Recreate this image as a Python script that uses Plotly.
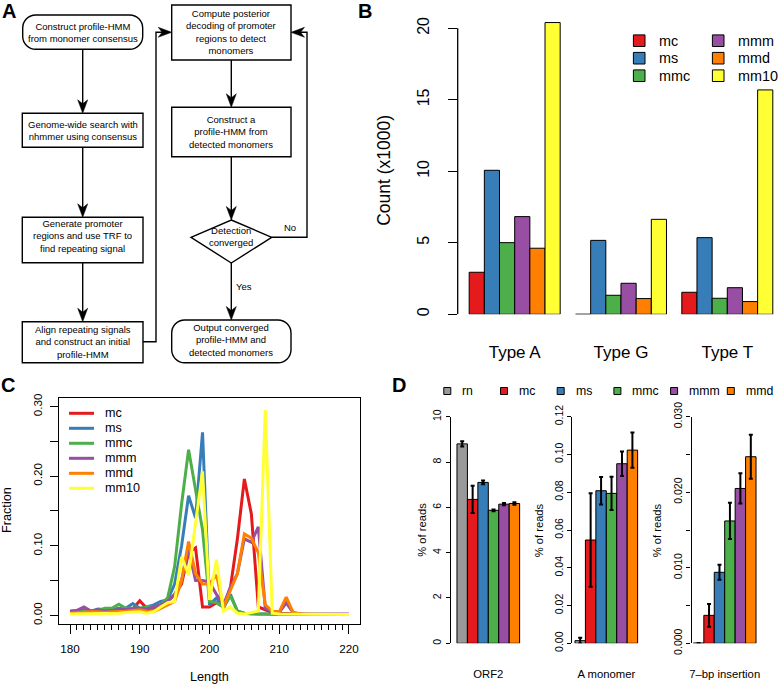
import plotly.graph_objects as go

# ---------------- data ----------------
strains = ["mc", "ms", "mmc", "mmm", "mmd", "mm10"]
strain_colors = ["#E41A1C", "#377EB8", "#4DAF4A", "#984EA3", "#FF7F00", "#FFFF33"]

# Panel B : promoter monomer counts (x1000)
promoter_types = ["Type A", "Type G", "Type T"]
count_mc = [2.94, 0.00, 1.54]
count_ms = [10.07, 5.17, 5.36]
count_mmc = [5.01, 1.33, 1.12]
count_mmm = [6.83, 2.17, 1.86]
count_mmd = [4.62, 1.10, 0.89]
count_mm10 = [20.40, 6.64, 15.69]
b_counts = [count_mc, count_ms, count_mmc, count_mmm, count_mmd, count_mm10]
b_ticks = [0, 5, 10, 15, 20]

# Panel C : monomer length distribution
monomer_length = [180, 181, 182, 183, 184, 185, 186, 187, 188, 189, 190,
                  191, 192, 193, 194, 195, 196, 197, 198, 199, 200,
                  201, 202, 203, 204, 205, 206, 207, 208, 209, 210,
                  211, 212, 213, 214, 215, 216, 217, 218, 219, 220]
frac_mc = [0.004, 0.005, 0.006, 0.005, 0.007, 0.006, 0.007, 0.008, 0.007, 0.009, 0.021,
           0.010, 0.010, 0.012, 0.020, 0.030, 0.045, 0.090, 0.097, 0.012, 0.012,
           0.018, 0.012, 0.040, 0.110, 0.196, 0.146, 0.012, 0.008, 0.004, 0.003,
           0.003, 0.002, 0.002, 0.001, 0.001, 0.001, 0.002, 0.001, 0.001, 0.001]
frac_ms = [0.006, 0.007, 0.008, 0.006, 0.009, 0.008, 0.008, 0.010, 0.010, 0.017, 0.010,
           0.012, 0.015, 0.020, 0.022, 0.045, 0.100, 0.172, 0.140, 0.263, 0.015,
           0.025, 0.010, 0.030, 0.006, 0.003, 0.002, 0.002, 0.002, 0.001, 0.001,
           0.001, 0.001, 0.001, 0.001, 0.001, 0.001, 0.001, 0.001, 0.001, 0.001]
frac_mmc = [0.004, 0.005, 0.006, 0.006, 0.007, 0.010, 0.010, 0.016, 0.010, 0.010, 0.010,
            0.012, 0.012, 0.015, 0.025, 0.070, 0.160, 0.238, 0.180, 0.123, 0.020,
            0.018, 0.012, 0.028, 0.006, 0.003, 0.002, 0.002, 0.001, 0.001, 0.001,
            0.001, 0.001, 0.001, 0.001, 0.001, 0.001, 0.001, 0.001, 0.001, 0.001]
frac_mmm = [0.006, 0.007, 0.012, 0.006, 0.008, 0.006, 0.007, 0.008, 0.008, 0.009, 0.010,
            0.009, 0.012, 0.015, 0.020, 0.030, 0.050, 0.095, 0.050, 0.050, 0.048,
            0.030, 0.015, 0.040, 0.060, 0.110, 0.105, 0.127, 0.010, 0.005, 0.004,
            0.018, 0.004, 0.002, 0.002, 0.002, 0.002, 0.003, 0.002, 0.003, 0.002]
frac_mmd = [0.003, 0.004, 0.004, 0.005, 0.005, 0.004, 0.005, 0.005, 0.006, 0.007, 0.008,
            0.006, 0.005, 0.010, 0.015, 0.020, 0.050, 0.106, 0.060, 0.045, 0.045,
            0.058, 0.012, 0.035, 0.060, 0.117, 0.111, 0.090, 0.015, 0.006, 0.005,
            0.026, 0.004, 0.002, 0.001, 0.001, 0.001, 0.001, 0.001, 0.001, 0.001]
frac_mm10 = [0.002, 0.002, 0.003, 0.003, 0.003, 0.002, 0.003, 0.003, 0.004, 0.004, 0.005,
             0.003, 0.005, 0.012, 0.018, 0.020, 0.084, 0.058, 0.130, 0.207, 0.022,
             0.080, 0.006, 0.012, 0.003, 0.002, 0.004, 0.006, 0.295, 0.003, 0.002,
             0.002, 0.001, 0.001, 0.001, 0.001, 0.001, 0.001, 0.001, 0.001, 0.001]
c_fracs = [frac_mc, frac_ms, frac_mmc, frac_mmm, frac_mmd, frac_mm10]
c_xticks = [180, 190, 200, 210, 220]
c_yticks = [0.00, 0.05, 0.10, 0.15, 0.20, 0.25, 0.30]
c_ytext = ["0.00", "", "0.10", "", "0.20", "", "0.30"]

# Panel D : % of reads
d_strains = ["rn", "mc", "ms", "mmc", "mmm", "mmd"]
d_colors = ["#999999", "#E41A1C", "#377EB8", "#4DAF4A", "#984EA3", "#FF7F00"]
d_features = ["ORF2", "A monomer", "7\u2013bp insertion"]
orf2_pct = [8.80, 6.35, 7.10, 5.87, 6.14, 6.17]
orf2_err = [0.12, 0.60, 0.08, 0.04, 0.05, 0.06]
amono_pct = [0.0014, 0.0547, 0.0808, 0.0794, 0.0951, 0.1023]
amono_err = [0.0015, 0.0247, 0.0073, 0.0088, 0.0065, 0.0093]
ins7_pct = [0.00003, 0.0037, 0.0094, 0.0162, 0.0205, 0.0247]
ins7_err = [0.0, 0.0015, 0.0010, 0.0024, 0.0020, 0.0029]
d_pct = [orf2_pct, amono_pct, ins7_pct]
d_err = [orf2_err, amono_err, ins7_err]
d_yticks = [[0, 2, 4, 6, 8, 10],
            [0.00, 0.02, 0.04, 0.06, 0.08, 0.10, 0.12],
            [0.000, 0.005, 0.010, 0.015, 0.020, 0.025, 0.030]]
d_ytext = [["0", "2", "4", "6", "8", "10"],
           ["0.00", "0.02", "0.04", "0.06", "0.08", "0.10", "0.12"],
           ["0.000", "", "0.010", "", "0.020", "", "0.030"]]

# ---------------- helpers ----------------
W, H = 778, 684
FONT = "Liberation Sans, Arial, Helvetica, sans-serif"


def px(x):
    return x / W


def py(y):
    return 1 - y / H


shapes = []
annotations = []


def text(x, y, s, size, bold=False, angle=0, xanchor="center", yanchor="middle", color="black"):
    if bold:
        s = "<b>" + s + "</b>"
    annotations.append(dict(x=px(x), y=py(y), xref="paper", yref="paper", text=s, showarrow=False,
                            font=dict(size=size, family=FONT, color=color), textangle=angle,
                            xanchor=xanchor, yanchor=yanchor))


def P(x, y):
    return "%.5f,%.5f" % (px(x), py(y))


def path_shape(d, lw=1.4, fill=None):
    s = dict(type="path", path=d, xref="paper", yref="paper", line=dict(color="black", width=lw))
    if fill:
        s["fillcolor"] = fill
    shapes.append(s)


def polyline(pts, lw=1.4):
    d = "M" + P(*pts[0]) + "".join(" L" + P(*p) for p in pts[1:])
    path_shape(d, lw)


def box(x0, y0, x1, y1, r=0, lw=1.4):
    if r == 0:
        d = "M" + P(x0, y0) + " L" + P(x1, y0) + " L" + P(x1, y1) + " L" + P(x0, y1) + " Z"
    else:
        k = 0.5523 * r
        d = ("M" + P(x0 + r, y0) + " L" + P(x1 - r, y0) +
             " C" + P(x1 - r + k, y0) + " " + P(x1, y0 + r - k) + " " + P(x1, y0 + r) +
             " L" + P(x1, y1 - r) +
             " C" + P(x1, y1 - r + k) + " " + P(x1 - r + k, y1) + " " + P(x1 - r, y1) +
             " L" + P(x0 + r, y1) +
             " C" + P(x0 + r - k, y1) + " " + P(x0, y1 - r + k) + " " + P(x0, y1 - r) +
             " L" + P(x0, y0 + r) +
             " C" + P(x0, y0 + r - k) + " " + P(x0 + r - k, y0) + " " + P(x0 + r, y0) + " Z")
    path_shape(d, lw, fill="white")


def head(x, y, direction):
    L, Wd, N = 13.5, 5.0, 9.5
    if direction == "down":
        pts = [(x, y), (x - Wd, y - L), (x, y - N), (x + Wd, y - L)]
    elif direction == "right":
        pts = [(x, y), (x - L, y - Wd), (x - N, y), (x - L, y + Wd)]
    else:  # left
        pts = [(x, y), (x + L, y - Wd), (x + N, y), (x + L, y + Wd)]
    d = "M" + P(*pts[0]) + "".join(" L" + P(*p) for p in pts[1:]) + " Z"
    path_shape(d, 0.5, fill="black")


def arrow_down(x, y0, y1):
    polyline([(x, y0), (x, y1 - 7)])
    head(x, y1, "down")


# ---------------- Panel A : flowchart ----------------
FS = 9.5
box(22.7, 15, 142.7, 49.3, r=13)
text(82.7, 32.2, "Construct profile-HMM<br>from monomer consensus", FS)
box(22.3, 113.3, 143, 147.3)
text(82.7, 130.5, "Genome-wide search with<br>nhmmer using consensus", FS)
box(22.3, 217.3, 143, 262.7)
text(82.7, 236, "Generate promoter<br>regions and use TRF to<br>find repeating signal", FS)
box(22.3, 321.7, 143, 362.7)
text(82.7, 342, "Align repeating signals<br>and construct an initial<br>profile-HMM", FS)
arrow_down(82.7, 49.3, 113.3)
arrow_down(82.7, 147.3, 217.3)
arrow_down(82.7, 262.7, 321.7)

polyline([(143, 341.7), (156, 341.7), (156, 32.3), (164, 32.3)])
head(171.7, 32.3, "right")

box(171.7, 5, 291, 60)
text(231.3, 32, "Compute posterior<br>decoding of promoter<br>regions to detect<br>monomers", FS)
box(171.7, 107.3, 291, 156.7)
text(231.3, 131.8, "Construct a<br>profile-HMM from<br>detected monomers", FS)
arrow_down(231.3, 60, 107.3)
arrow_down(231.3, 156.7, 220)
# decision diamond
dtop, dmid, dbot = 220, 237.3, 263
d = "M" + P(231.3, dtop) + " L" + P(271.7, dmid) + " L" + P(231.3, dbot) + " L" + P(191, dmid) + " Z"
path_shape(d, 1.4, fill="white")
text(231.3, 236, "Detection<br>converged", FS)
polyline([(271.7, dmid), (307, dmid), (307, 32.3), (298, 32.3)])
head(291, 32.3, "left")
text(289.7, 228, "No", FS)
arrow_down(231.3, dbot, 320)
text(243.5, 286, "Yes", FS)
box(171.7, 320, 291, 362.7, r=13)
text(231.3, 339.5, "Output converged<br>profile-HMM and<br>detected monomers", FS)

# panel letters
text(8.5, 11, "A", 20, bold=True)
text(365, 11, "B", 20, bold=True)
text(8, 385, "C", 20, bold=True)
text(399, 385, "D", 20, bold=True)

# ---------------- Panel B ----------------
fig = go.Figure()
for name, col, vals in zip(strains, strain_colors, b_counts):
    fig.add_trace(go.Bar(x=promoter_types, y=vals, name=name, marker=dict(color=col, line=dict(color="black", width=1)),
                         xaxis="x", yaxis="y", showlegend=False))
shapes.append(dict(type="line", xref="x domain", yref="y", x0=0, x1=0, y0=b_ticks[0], y1=b_ticks[-1],
                   line=dict(color="black", width=1.3)))
text(383.3, 170.5, "Count (x1000)", 17.5, angle=-90)
# legend B (two columns)
for i, (name, col) in enumerate(zip(strains, strain_colors)):
    cx = 639.2 if i < 3 else 718.2
    cy = 40.7 + (i % 3) * 17.5
    shapes.append(dict(type="rect", xref="paper", yref="paper", x0=px(cx - 5.8), x1=px(cx + 5.8),
                       y0=py(cy + 5.8), y1=py(cy - 5.8), fillcolor=col, line=dict(color="black", width=1)))
    text(cx + 18.2, cy, name, 14.4, xanchor="left")

# ---------------- Panel C ----------------
for name, col, vals in zip(strains, strain_colors, c_fracs):
    fig.add_trace(go.Scatter(x=monomer_length, y=vals, mode="lines", name=name, line=dict(color=col, width=3),
                             xaxis="x2", yaxis="y2", showlegend=False))
text(7, 510, "Fraction", 12.7, angle=-90)
text(209.7, 676.7, "Length", 12.7)
for i, (name, col) in enumerate(zip(strains, strain_colors)):
    cy = 413.3 + i * 15
    shapes.append(dict(type="line", xref="paper", yref="paper", x0=px(69), x1=px(94), y0=py(cy), y1=py(cy),
                       line=dict(color=col, width=3)))
    text(103.3, cy, name, 12.6, xanchor="left")

# ---------------- Panel D ----------------
for k in range(3):
    ax = str(k + 3)
    for j, (name, col) in enumerate(zip(d_strains, d_colors)):
        fig.add_trace(go.Bar(x=[d_features[k]], y=[d_pct[k][j]], name=name,
                             marker=dict(color=col, line=dict(color="black", width=1)),
                             error_y=dict(type="data", array=[d_err[k][j]], color="black", thickness=2, width=2),
                             xaxis="x" + ax, yaxis="y" + ax, showlegend=False))
for xt in [421.7, 539.3, 657.3]:
    text(xt, 530, "% of reads", 11.2, angle=-90)
for i, (name, col) in enumerate(zip(d_strains, d_colors)):
    cx = 447.3 + i * 56.7
    cy = 391
    shapes.append(dict(type="rect", xref="paper", yref="paper", x0=px(cx - 3.5), x1=px(cx + 3.5),
                       y0=py(cy + 3.5), y1=py(cy - 3.5), fillcolor=col, line=dict(color="black", width=1)))
    text(cx + 13, cy, name, 12.3, xanchor="left")

# ---------------- axes ----------------
common_y = dict(showgrid=False, zeroline=False, ticks="outside", tickcolor="black", tickangle=-90)
layout = dict(
    width=W, height=H, autosize=False, margin=dict(l=0, r=0, t=0, b=0, pad=0),
    paper_bgcolor="white", plot_bgcolor="white", barmode="group", bargap=0.144, bargroupgap=0,
    font=dict(family=FONT, color="black"), showlegend=False,
    # B
    xaxis=dict(domain=[px(457.7), px(777)], range=[-0.536, 2.4675], type="category", anchor="y",
               showgrid=False, showline=False, ticks="", tickfont=dict(size=17, family=FONT, color="black"),
               ticklabelstandoff=26, automargin=False),
    yaxis=dict(domain=[py(314.3), py(19.7)], range=[0, 20.6], anchor="x", tickvals=b_ticks,
               ticklen=9, tickwidth=1.3, showline=False, tickfont=dict(size=16, family=FONT, color="black"),
               ticklabelstandoff=12, automargin=False, **common_y),
    # C
    xaxis2=dict(domain=[px(59), px(360)], range=[178.42, 221.58], anchor="y2", tickvals=c_xticks,
                ticks="outside", ticklen=9, tickwidth=1.2, tickcolor="black", showgrid=False, zeroline=False,
                showline=True, mirror=True, linecolor="black", linewidth=1.3,
                minor=dict(tickmode="array", tickvals=monomer_length, ticks="outside", ticklen=4.5,
                           tickwidth=1, tickcolor="black", showgrid=False),
                tickfont=dict(size=11.7, family=FONT, color="black"), ticklabelstandoff=5, automargin=False),
    yaxis2=dict(domain=[py(624), py(398.3)], range=[-0.0125, 0.312], anchor="x2", tickvals=c_yticks,
                ticktext=c_ytext, ticklen=8, tickwidth=1.2, showline=True, mirror=True, linecolor="black",
                linewidth=1.3, tickfont=dict(size=11.7, family=FONT, color="black"), ticklabelstandoff=3,
                automargin=False, **common_y),
)
d_dom = [(450.7, -0.5137), (572.3, -0.4645), (691.5, -0.4536)]
for k in range(3):
    ax = str(k + 3)
    left, rl = d_dom[k]
    right = left + (0.5 - rl) * 73.2
    layout["xaxis" + ax] = dict(domain=[px(left), px(right)], range=[rl, 0.5], type="category", anchor="y" + ax,
                                showgrid=False, showline=False, ticks="", automargin=False,
                                tickfont=dict(size=11.3, family=FONT, color="black"), ticklabelstandoff=22)
    layout["yaxis" + ax] = dict(domain=[py(643.3), py(416.7)], range=[d_yticks[k][0], d_yticks[k][-1]],
                                anchor="x" + ax, tickvals=d_yticks[k], ticktext=d_ytext[k], ticklen=4,
                                tickwidth=1.2, showline=True, linecolor="black", linewidth=1.2, automargin=False,
                                tickfont=dict(size=10.5, family=FONT, color="black"), ticklabelstandoff=0,
                                **common_y)

layout["shapes"] = shapes
layout["annotations"] = annotations
fig.update_layout(**layout)
fig.write_html("out.html", config={"displayModeBar": False},
               post_script="document.body.style.margin='0px';document.body.style.padding='0px';"
                           "document.body.style.overflow='hidden';")
